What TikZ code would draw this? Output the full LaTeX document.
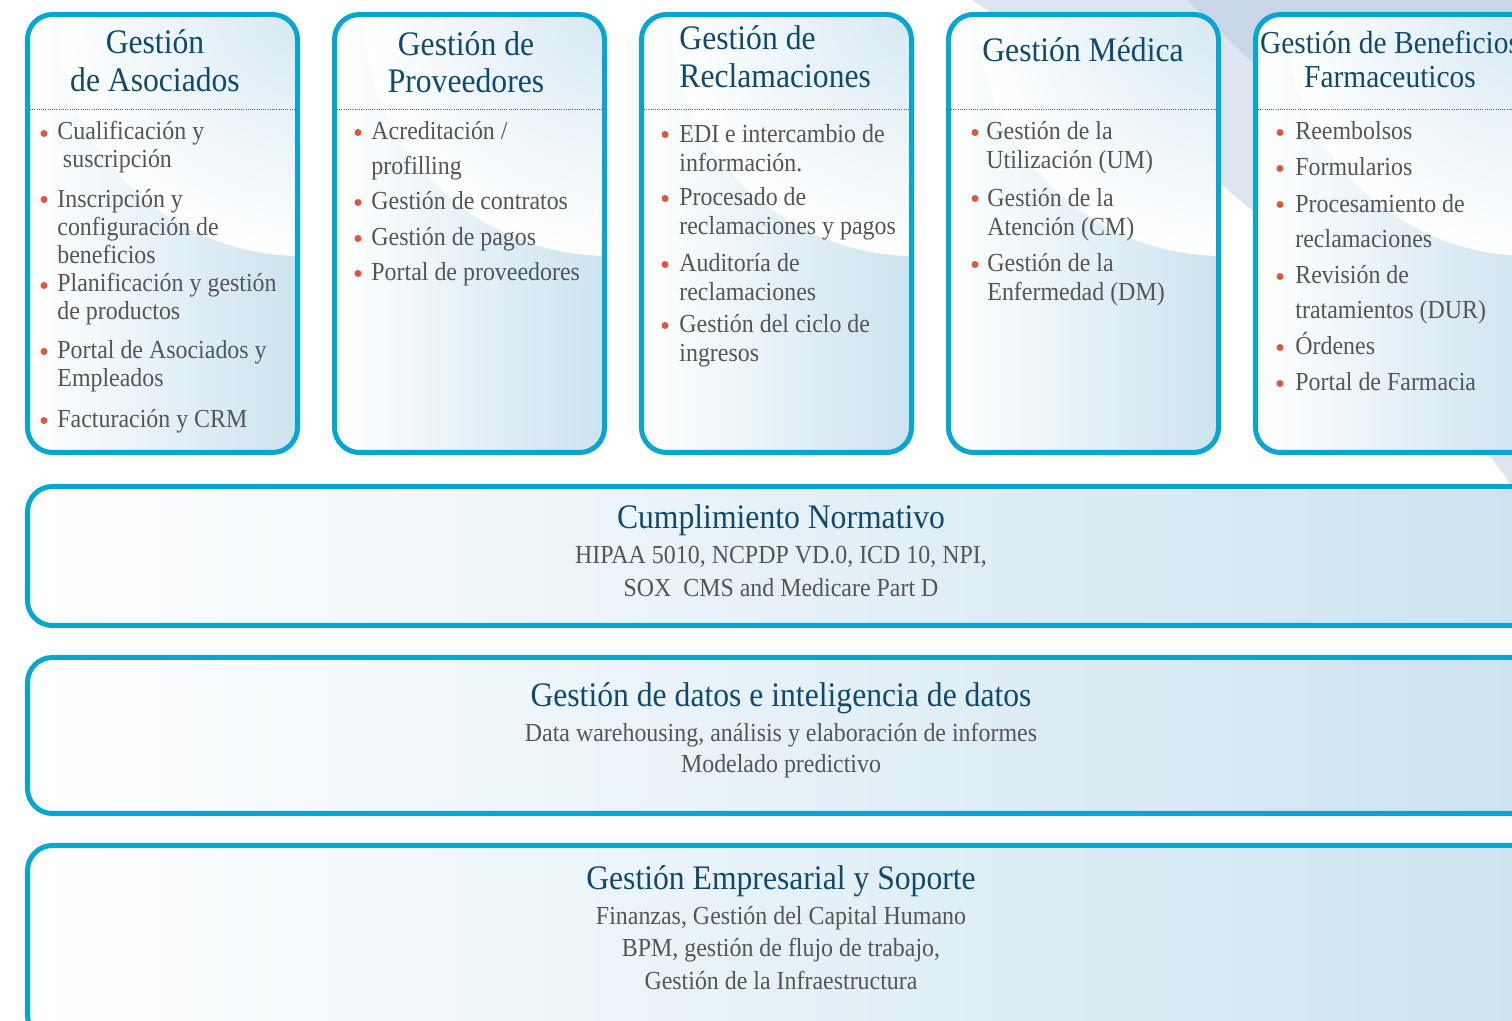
\documentclass[tikz,border=0pt]{standalone}
\usepackage{fontspec}
\setmainfont[FakeStretch=0.92]{Liberation Serif}
\usepackage{tikz}
\usepackage{xcolor}

\definecolor{boxcyan}{HTML}{05A6D1}
\definecolor{titleblue}{HTML}{0F4A6E}
\definecolor{itemgrey}{HTML}{555555}
\definecolor{dotred}{HTML}{E2553A}
\definecolor{fillblue}{HTML}{CCE3EF}
\definecolor{swooshblue}{HTML}{D6E8F2}
\definecolor{bandlight}{HTML}{DDE5F0}
\definecolor{banddark}{HTML}{C9D6E8}

\tikzset{
  boxline/.style={draw=boxcyan, line width=2.5pt, rounded corners=12.5pt},
  dotline/.style={itemgrey, line width=0.5pt, dash pattern=on 0.5pt off 0.6pt},
  bulletdot/.style={fill=dotred},
  boxtitle/.style={text=titleblue, font=\fontsize{17.2pt}{19pt}\selectfont, inner sep=0pt, anchor=base, align=center},
  boxitem/.style={text=itemgrey, font=\fontsize{13pt}{14.5pt}\selectfont, inner sep=0pt, anchor=base west, align=left},
  boxitemtight/.style={boxitem, font=\fontsize{13pt}{14pt}\selectfont},
  boxitemwide/.style={boxitem, font=\fontsize{13pt}{17.75pt}\selectfont},
  bandtitle/.style={text=titleblue, font=\fontsize{17.2pt}{19pt}\selectfont, inner sep=0pt, anchor=base},
  bandtext/.style={text=itemgrey, font=\fontsize{13pt}{16.25pt}\selectfont, inner sep=0pt, anchor=base, align=center}
}

\begin{document}
\begin{tikzpicture}[x=0.5pt, y=-0.5pt]

\useasboundingbox (0,0) rectangle (1512,1021);
\clip (0,0) rectangle (1512,1021);

% background bands
\fill[bandlight] (972,0) .. controls (1150,120) and (1420,320) .. (1560,560) -- (1560,0) -- cycle;
\fill[banddark] (1187,0) .. controls (1230,42) and (1320,125) .. (1560,360) -- (1560,0) -- cycle;


\begin{scope}[xshift=0pt]
{
\begin{scope}
\clip[rounded corners=12.5pt] (27.5,14.5) rectangle (297.5,452.5);
\shade[left color=white, right color=fillblue] (27.5,14.5) rectangle (297.5,452.5);
\shade[inner color=swooshblue, outer color=white] (302,10) circle [radius=246];
\end{scope}
\draw[boxline] (27.5,14.5) rectangle (297.5,452.5);
\draw[dotline] (30,110)--(295,110);

% last line baselines
\node[boxtitle] (asoc title) at (155,92) {Gestión\\de Asociados};

% bullets
\fill[bulletdot] (44,133.5) circle [radius=3.5];
\fill[bulletdot] (44,199.5) circle [radius=3.5];
\fill[bulletdot] (44,285.5) circle [radius=3.5];
\fill[bulletdot] (44,351.5) circle [radius=3.5];
\fill[bulletdot] (44,420.5) circle [radius=3.5];

\node[boxitemtight] (asoc a) at (57,168) {Cualificación y\\\hspace*{2.8pt}suscripción};
\node[boxitemtight] (asoc b) at (57,264) {Inscripción y\\configuración de\\beneficios};
\node[boxitemtight] (asoc c) at (57,320) {Planificación y gestión\\de productos};
\node[boxitemtight] (asoc d) at (57,387) {Portal de Asociados y\\Empleados};
\node[boxitemtight] (asoc e) at (57,428) {Facturación y CRM};
}
\end{scope}

\begin{scope}[xshift=153.5pt]
{
\begin{scope}
\clip[rounded corners=12.5pt] (27.5,14.5) rectangle (297.5,452.5);
\shade[left color=white, right color=fillblue] (27.5,14.5) rectangle (297.5,452.5);
\shade[inner color=swooshblue, outer color=white] (302,10) circle [radius=246];
\end{scope}
\draw[boxline] (27.5,14.5) rectangle (297.5,452.5);
\draw[dotline] (30,110)--(295,110);

\node[boxtitle, font=\fontsize{17.2pt}{18.5pt}\selectfont] (prov title) at (159,93) {Gestión de\\Proveedores};

% bullets
\fill[bulletdot] (51,132.5) circle [radius=3.5];
\fill[bulletdot] (51,202.5) circle [radius=3.5];
\fill[bulletdot] (51,238.5) circle [radius=3.5];
\fill[bulletdot] (51,273.5) circle [radius=3.5];

\node[boxitemwide] (prov a) at (64,175) {Acreditación /\\profilling};
\node[boxitem] (prov b) at (64,210) {Gestión de contratos};
\node[boxitem] (prov c) at (64,246) {Gestión de pagos};
\node[boxitem] (prov d) at (64,281) {Portal de proveedores};
}
\end{scope}

\begin{scope}[xshift=307pt]
{
\begin{scope}
\clip[rounded corners=12.5pt] (27.5,14.5) rectangle (297.5,452.5);
\shade[left color=white, right color=fillblue] (27.5,14.5) rectangle (297.5,452.5);
\shade[inner color=swooshblue, outer color=white] (302,10) circle [radius=246];
\end{scope}
\draw[boxline] (27.5,14.5) rectangle (297.5,452.5);
\draw[dotline] (30,110)--(295,110);

\node[boxtitle, anchor=base west, align=left] (recl title) at (65,88) {Gestión de\\Reclamaciones};

% bullets
\fill[bulletdot] (51,134.5) circle [radius=3.5];
\fill[bulletdot] (51,198.5) circle [radius=3.5];
\fill[bulletdot] (51,264.5) circle [radius=3.5];
\fill[bulletdot] (51,325.5) circle [radius=3.5];

\node[boxitem] (recl a) at (65,172) {EDI e intercambio de\\información.};
\node[boxitem] (recl b) at (65,235) {Procesado de\\reclamaciones y pagos};
\node[boxitem] (recl c) at (65,301) {Auditoría de\\reclamaciones};
\node[boxitem] (recl d) at (65,362) {Gestión del ciclo de\\ingresos};
}
\end{scope}

\begin{scope}[xshift=460.5pt]
{
\begin{scope}
\clip[rounded corners=12.5pt] (27.5,14.5) rectangle (297.5,452.5);
\shade[left color=white, right color=fillblue] (27.5,14.5) rectangle (297.5,452.5);
\shade[inner color=swooshblue, outer color=white] (302,10) circle [radius=246];
\end{scope}
\draw[boxline] (27.5,14.5) rectangle (297.5,452.5);
\draw[dotline] (30,110)--(295,110);

\node[boxtitle] (med title) at (162,62) {Gestión Médica};

% bullets
\fill[bulletdot] (54,132.5) circle [radius=3.5];
\fill[bulletdot] (54,198.5) circle [radius=3.5];
\fill[bulletdot] (54,264.5) circle [radius=3.5];

\node[boxitem] (med a) at (65,169) {Gestión de la\\Utilización (UM)};
\node[boxitem] (med b) at (66,236) {Gestión de la\\Atención (CM)};
\node[boxitem] (med c) at (66,301) {Gestión de la\\Enfermedad (DM)};
}
\end{scope}

\begin{scope}[xshift=614pt]
{
\begin{scope}
\clip[rounded corners=12.5pt] (27.5,14.5) rectangle (310,452.5);
\shade[left color=white, right color=fillblue] (27.5,14.5) rectangle (310,452.5);
\shade[inner color=swooshblue, outer color=white] (302,10) circle [radius=246];
\end{scope}
\draw[boxline] (27.5,14.5) rectangle (310,452.5);
\draw[dotline] (30,110)--(300,110);

\node[boxtitle, font=\fontsize{16pt}{17pt}\selectfont] (farm title) at (162,88) {Gestión de Beneficios\\Farmaceuticos};

% bullets
\fill[bulletdot] (52,132.5) circle [radius=3.5];
\fill[bulletdot] (52,168.5) circle [radius=3.5];
\fill[bulletdot] (52,204.5) circle [radius=3.5];
\fill[bulletdot] (52,276.5) circle [radius=3.5];
\fill[bulletdot] (52,347.5) circle [radius=3.5];
\fill[bulletdot] (52,383.5) circle [radius=3.5];

\node[boxitem] (farm a) at (67,140) {Reembolsos};
\node[boxitem] (farm b) at (67,176) {Formularios};
\node[boxitemwide] (farm c) at (67,248) {Procesamiento de\\reclamaciones};
\node[boxitemwide] (farm d) at (67,319) {Revisión de\\tratamientos (DUR)};
\node[boxitem] (farm e) at (67,355) {Órdenes};
\node[boxitem] (farm f) at (67,391) {Portal de Farmacia};
}
\end{scope}


% wide boxes
\shade[left color=white, right color=fillblue, rounded corners=12.5pt] (27.5,486.5) rectangle (1545,625.5);
\draw[boxline] (27.5,486.5) rectangle (1545,625.5);
\node[bandtitle] (norm title) at (781,529) {Cumplimiento Normativo};
\node[bandtext, font=\fontsize{13pt}{16.5pt}\selectfont] (norm text) at (781,597) {HIPAA 5010, NCPDP VD.0, ICD 10, NPI,\\SOX\ \ CMS and Medicare Part D};

\shade[left color=white, right color=fillblue, rounded corners=12.5pt] (27.5,657.5) rectangle (1545,813.5);
\draw[boxline] (27.5,657.5) rectangle (1545,813.5);
\node[bandtitle] (datos title) at (781,707) {Gestión de datos e inteligencia de datos};
\node[bandtext, font=\fontsize{13pt}{16pt}\selectfont] (datos text) at (781,773) {Data warehousing, análisis y elaboración de informes\\Modelado predictivo};

\shade[left color=white, right color=fillblue, rounded corners=12.5pt] (27.5,845.5) rectangle (1545,1040);
\draw[boxline] (27.5,845.5) rectangle (1545,1040);
\node[bandtitle] (emp title) at (781,889) {Gestión Empresarial y Soporte};
\node[bandtext] (emp text) at (781,989) {Finanzas, Gestión del Capital Humano\\BPM, gestión de flujo de trabajo,\\Gestión de la Infraestructura};

\end{tikzpicture}
\end{document}
